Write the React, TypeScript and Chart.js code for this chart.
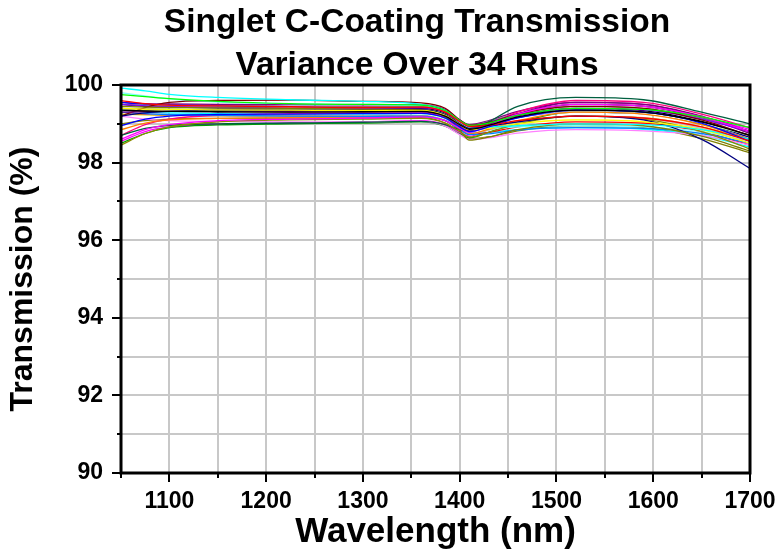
import React, { useEffect, useRef } from "react";
import Chart from "chart.js/auto";

// wavelength sample points (nm) shared by every run
const wavelengths = [1050, 1075, 1100, 1150, 1225, 1300, 1360, 1385, 1400, 1410, 1430, 1460, 1520, 1590, 1650, 1700];

// transmission (%) of each of the 34 runs
const run01 = [99.35, 99.33, 99.32, 99.31, 99.3, 99.31, 99.32, 99.2, 98.98, 98.86, 98.96, 99.18, 99.35, 99.3, 99.05, 98.7];
const run02 = [99.6, 99.52, 99.48, 99.46, 99.44, 99.42, 99.43, 99.3, 99.06, 98.93, 98.96, 99.08, 99.2, 99.15, 98.92, 98.55];
const run03 = [99.75, 99.7, 99.65, 99.58, 99.52, 99.5, 99.48, 99.34, 99.08, 98.96, 99.02, 99.22, 99.4, 99.37, 99.18, 98.9];
const run04 = [98.95, 99.12, 99.2, 99.24, 99.25, 99.26, 99.27, 99.15, 98.92, 98.8, 98.92, 99.15, 99.35, 99.3, 99.02, 98.55];
const run05 = [99.92, 99.85, 99.76, 99.68, 99.62, 99.58, 99.5, 99.35, 99.08, 98.94, 98.92, 98.95, 99.0, 98.98, 98.85, 98.6];
const run06 = [98.6, 98.85, 98.98, 99.08, 99.12, 99.15, 99.18, 99.08, 98.88, 98.78, 98.95, 99.25, 99.5, 99.45, 99.18, 98.8];
const run07 = [99.4, 99.38, 99.37, 99.36, 99.35, 99.34, 99.34, 99.22, 98.98, 98.85, 98.88, 99.0, 99.1, 99.05, 98.85, 98.5];
const run08 = [99.45, 99.43, 99.42, 99.41, 99.4, 99.38, 99.36, 99.18, 98.84, 98.58, 98.66, 98.85, 99.0, 98.95, 98.68, 98.3];
const run09 = [99.2, 99.28, 99.32, 99.35, 99.35, 99.35, 99.36, 99.24, 99.0, 98.88, 98.94, 99.05, 99.2, 99.1, 98.6, 97.85];
const run10 = [99.3, 99.31, 99.32, 99.32, 99.31, 99.3, 99.31, 99.19, 98.96, 98.84, 98.98, 99.26, 99.55, 99.5, 99.2, 98.8];
const run11 = [99.2, 99.42, 99.55, 99.6, 99.61, 99.58, 99.54, 99.4, 99.1, 98.96, 99.03, 99.25, 99.45, 99.4, 99.1, 98.7];
const run12 = [98.45, 98.75, 98.92, 99.05, 99.1, 99.12, 99.14, 99.02, 98.8, 98.66, 98.78, 99.0, 99.2, 99.12, 98.8, 98.35];
const run13 = [98.7, 98.88, 98.96, 99.0, 99.02, 99.04, 99.06, 98.98, 98.85, 98.82, 99.05, 99.45, 99.68, 99.62, 99.3, 99.0];
const run14 = [99.3, 99.26, 99.24, 99.22, 99.2, 99.19, 99.2, 99.08, 98.85, 98.72, 98.74, 98.84, 98.9, 98.88, 98.75, 98.5];
const run15 = [98.85, 99.02, 99.1, 99.14, 99.16, 99.18, 99.2, 99.08, 98.86, 98.74, 98.86, 99.08, 99.3, 99.25, 98.98, 98.6];
const run16 = [99.5, 99.46, 99.44, 99.42, 99.4, 99.4, 99.41, 99.3, 99.06, 98.94, 99.04, 99.22, 99.4, 99.36, 99.12, 98.8];
const run17 = [98.7, 98.98, 99.12, 99.22, 99.26, 99.27, 99.28, 99.16, 98.94, 98.82, 98.98, 99.3, 99.6, 99.55, 99.25, 98.9];
const run18 = [99.3, 99.31, 99.32, 99.32, 99.31, 99.3, 99.3, 99.18, 98.95, 98.83, 98.93, 99.12, 99.3, 99.26, 99.02, 98.7];
const run19 = [99.3, 99.26, 99.23, 99.21, 99.2, 99.2, 99.21, 99.09, 98.86, 98.74, 98.84, 99.03, 99.2, 99.15, 98.88, 98.5];
const run20 = [99.5, 99.48, 99.47, 99.46, 99.45, 99.44, 99.44, 99.32, 99.08, 98.96, 99.06, 99.26, 99.45, 99.4, 99.14, 98.8];
const run21 = [99.4, 99.36, 99.34, 99.32, 99.3, 99.3, 99.31, 99.19, 98.96, 98.84, 98.9, 99.02, 99.1, 99.06, 98.88, 98.6];
const run22 = [99.8, 99.72, 99.64, 99.56, 99.52, 99.5, 99.46, 99.32, 99.04, 98.9, 98.87, 98.92, 98.95, 98.92, 98.8, 98.55];
const run23 = [99.2, 99.12, 99.08, 99.06, 99.05, 99.05, 99.06, 98.94, 98.72, 98.6, 98.64, 98.76, 98.85, 98.82, 98.7, 98.45];
const run24 = [99.4, 99.38, 99.37, 99.36, 99.35, 99.35, 99.36, 99.24, 99.0, 98.88, 99.0, 99.25, 99.5, 99.45, 99.15, 98.8];
const run25 = [99.5, 99.45, 99.43, 99.41, 99.4, 99.39, 99.4, 99.28, 99.04, 98.92, 99.02, 99.22, 99.4, 99.34, 99.06, 98.7];
const run26 = [99.3, 99.25, 99.23, 99.21, 99.2, 99.19, 99.2, 99.08, 98.85, 98.73, 98.78, 98.92, 99.05, 99.02, 98.8, 98.45];
const run27 = [98.5, 98.75, 98.9, 98.97, 99.0, 99.02, 99.05, 98.94, 98.74, 98.64, 98.78, 99.04, 99.3, 99.26, 99.0, 98.7];
const run28 = [99.55, 99.5, 99.48, 99.46, 99.45, 99.44, 99.44, 99.31, 99.06, 98.93, 99.0, 99.15, 99.3, 99.26, 99.0, 98.6];
const run29 = [99.35, 99.3, 99.28, 99.26, 99.25, 99.25, 99.26, 99.14, 98.9, 98.77, 98.78, 98.85, 98.9, 98.86, 98.7, 98.4];
const run30 = [98.55, 98.8, 98.92, 98.99, 99.02, 99.05, 99.08, 98.98, 98.78, 98.68, 98.86, 99.2, 99.5, 99.46, 99.18, 98.85];
const run31 = [99.25, 99.23, 99.22, 99.21, 99.2, 99.2, 99.21, 99.09, 98.86, 98.74, 98.85, 99.04, 99.2, 99.16, 98.92, 98.6];
const run32 = [99.0, 99.08, 99.12, 99.14, 99.15, 99.15, 99.16, 99.02, 98.78, 98.62, 98.66, 98.82, 98.95, 98.9, 98.62, 98.25];
const run33 = [99.4, 99.36, 99.33, 99.31, 99.3, 99.3, 99.31, 99.19, 98.96, 98.84, 98.95, 99.16, 99.35, 99.3, 99.04, 98.65];
const run34 = [99.55, 99.52, 99.51, 99.5, 99.5, 99.49, 99.49, 99.37, 99.1, 98.98, 99.08, 99.32, 99.55, 99.5, 99.18, 98.75];

const runs = [
  run01, run02, run03, run04, run05, run06, run07, run08, run09, run10,
  run11, run12, run13, run14, run15, run16, run17, run18, run19, run20,
  run21, run22, run23, run24, run25, run26, run27, run28, run29, run30,
  run31, run32, run33, run34,
];

// Origin-like colour cycle
const runColors = [
  "#000000", "#FF0000", "#00FF00", "#0000FF", "#00FFFF", "#FF00FF", "#FFFF00", "#808000",
  "#000080", "#800080", "#800000", "#8C8C00", "#006040", "#0080FF", "#FF8000", "#8000FF",
  "#FF0080", "#FFFFFF", "#C0C0C0", "#808080", "#FFFF80", "#80FFFF", "#FF80FF", "#404040",
  "#000000", "#FF0000", "#00A000", "#0000FF", "#00FFFF", "#FF00FF", "#D0D000", "#808000",
  "#000080", "#800080",
];

const titleLines = ["Singlet C-Coating Transmission", "Variance Over 34 Runs"];

// tick positions and labelled ticks
const xTickValues = [1050, 1100, 1150, 1200, 1250, 1300, 1350, 1400, 1450, 1500, 1550, 1600, 1650, 1700];
const xLabelValues = [1100, 1200, 1300, 1400, 1500, 1600, 1700];
const yTickValues = [90, 91, 92, 93, 94, 95, 96, 97, 98, 99, 100];
const yLabelValues = [90, 92, 94, 96, 98, 100];

const FONT = '"Liberation Sans", Arial, sans-serif';

const frameAndTitle = {
  id: "frameAndTitle",
  afterDatasetsDraw(chart: any) {
    const { ctx, chartArea: a, scales } = chart;
    ctx.save();
    ctx.strokeStyle = "#000";
    ctx.lineWidth = 2;
    yTickValues.forEach((v) => {
      const y = Math.round(scales.y.getPixelForValue(v));
      const len = yLabelValues.includes(v) ? 9 : 4;
      ctx.beginPath();
      ctx.moveTo(a.left - len, y);
      ctx.lineTo(a.left, y);
      ctx.stroke();
    });
    xTickValues.forEach((v) => {
      const x = Math.round(scales.x.getPixelForValue(v));
      const len = xLabelValues.includes(v) ? 9 : 5;
      ctx.beginPath();
      ctx.moveTo(x, a.bottom);
      ctx.lineTo(x, a.bottom + len);
      ctx.stroke();
    });
    ctx.lineWidth = 3;
    ctx.strokeRect(a.left, a.top, a.right - a.left, a.bottom - a.top);

    ctx.fillStyle = "#000";
    ctx.font = `bold 33.5px ${FONT}`;
    ctx.textAlign = "center";
    ctx.textBaseline = "alphabetic";
    ctx.fillText(titleLines[0], 417, 32);
    ctx.fillText(titleLines[1], 417, 75);
    ctx.restore();
  },
};

const App = () => {
  const chartRef = useRef<HTMLCanvasElement>(null);
  const chartInstance = useRef<any>(null);

  useEffect(() => {
    document.body.style.margin = "0";
    if (!chartRef.current) return;
    const ctx: any = chartRef.current.getContext("2d");

    if (chartInstance.current) {
      chartInstance.current.destroy();
    }

    const datasets = runs.map((run, i) => ({
      label: `Run ${i + 1}`,
      data: wavelengths.map((w, j) => ({ x: w, y: run[j] })),
      borderColor: runColors[i],
      backgroundColor: runColors[i],
      borderWidth: 1.3,
      pointRadius: 0,
      fill: false,
      cubicInterpolationMode: "monotone",
    }));

    chartInstance.current = new Chart(ctx, {
      type: "line",
      data: { datasets },
      plugins: [frameAndTitle],
      options: {
        animation: false,
        responsive: false,
        devicePixelRatio: 1,
        layout: { padding: { top: 85, right: 30, left: 0, bottom: 0 } },
        plugins: {
          legend: { display: false },
          tooltip: { enabled: false },
          title: { display: false },
        },
        scales: {
          x: {
            type: "linear",
            min: 1050,
            max: 1700,
            afterFit: (scale: any) => {
              scale.height = 82;
              scale.paddingLeft = 0;
              scale.paddingRight = 0;
            },
            afterBuildTicks: (scale: any) => {
              scale.ticks = xTickValues.map((v) => ({ value: v }));
            },
            ticks: {
              autoSkip: false,
              maxRotation: 0,
              padding: 15,
              color: "#000",
              font: { family: FONT, size: 23, weight: "bold" },
              callback: (v: any) => (xLabelValues.includes(v) ? String(v) : ""),
            },
            grid: { color: "#C8C8C8", lineWidth: 2, drawTicks: false },
            border: { display: false },
            title: {
              display: true,
              text: "Wavelength (nm)",
              color: "#000",
              font: { family: FONT, size: 35, weight: "bold" },
              padding: { top: 0, bottom: 2 },
            },
          },
          y: {
            type: "linear",
            min: 90,
            max: 100,
            afterFit: (scale: any) => {
              scale.width = 121;
              scale.paddingTop = 0;
              scale.paddingBottom = 0;
            },
            afterBuildTicks: (scale: any) => {
              scale.ticks = yTickValues.map((v) => ({ value: v }));
            },
            ticks: {
              autoSkip: false,
              padding: 18,
              color: "#000",
              font: { family: FONT, size: 23, weight: "bold" },
              callback: (v: any) => (yLabelValues.includes(v) ? String(v) : ""),
            },
            grid: { color: "#C8C8C8", lineWidth: 2, drawTicks: false },
            border: { display: false },
            title: {
              display: true,
              text: "Transmission (%)",
              color: "#000",
              font: { family: FONT, size: 32, weight: "bold" },
              padding: { top: 4, bottom: 0 },
            },
          },
        },
      } as any,
    });

    return () => {
      if (chartInstance.current) {
        chartInstance.current.destroy();
        chartInstance.current = null;
      }
    };
  }, []);

  return (
    <div style={{ width: "780px", height: "555px" }}>
      <canvas ref={chartRef} width={780} height={555} style={{ display: "block" }} />
    </div>
  );
};

export default App;
